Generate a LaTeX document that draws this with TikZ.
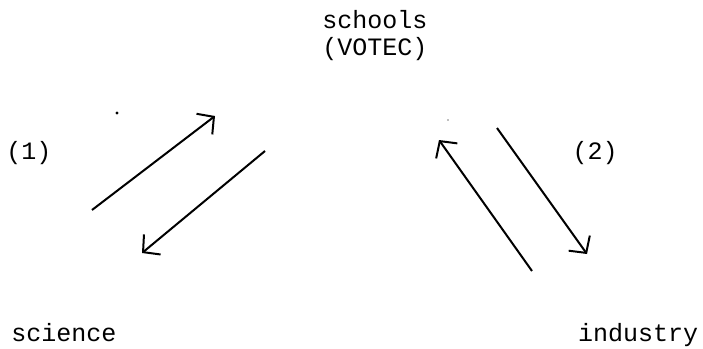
\documentclass[tikz,border=0pt]{standalone}
\usepackage{fontspec}
\setmonofont{Liberation Mono}
\usetikzlibrary{arrows.meta}
\tikzset{
  lbl/.style={font=\ttfamily\fontsize{25}{27}\selectfont, inner sep=0pt, anchor=base},
  arr/.style={line width=2pt, -{Straight Barb[length=12pt,width=26pt,line width=2pt]}},
}
\begin{document}
\begin{tikzpicture}[x=1pt,y=-1pt]
\useasboundingbox (0,0) rectangle (703,348);
\node[lbl] (schools) at (375,28) {schools};
\node[lbl] (votec) at (375,55) {(VOTEC)};
\node[lbl] (one) at (29,159) {(1)};
\node[lbl] (two) at (595,159) {(2)};
\node[lbl] (science) at (64,341) {science};
\node[lbl] (industry) at (638,341) {industry};
\coordinate (a1s) at (92,210);
\coordinate (a1e) at (215,116);
\coordinate (a2s) at (265,151);
\coordinate (a2e) at (142,253);
\coordinate (a3s) at (532,271);
\coordinate (a3e) at (439,140);
\coordinate (a4s) at (497,128);
\coordinate (a4e) at (587,254);
\draw[arr] (a1s) -- (a1e);
\draw[arr] (a2s) -- (a2e);
\draw[arr] (a3s) -- (a3e);
\draw[arr] (a4s) -- (a4e);
\fill (117,113) circle (1.6);
\fill[gray] (448,120) circle (0.8);
\end{tikzpicture}
\end{document}
